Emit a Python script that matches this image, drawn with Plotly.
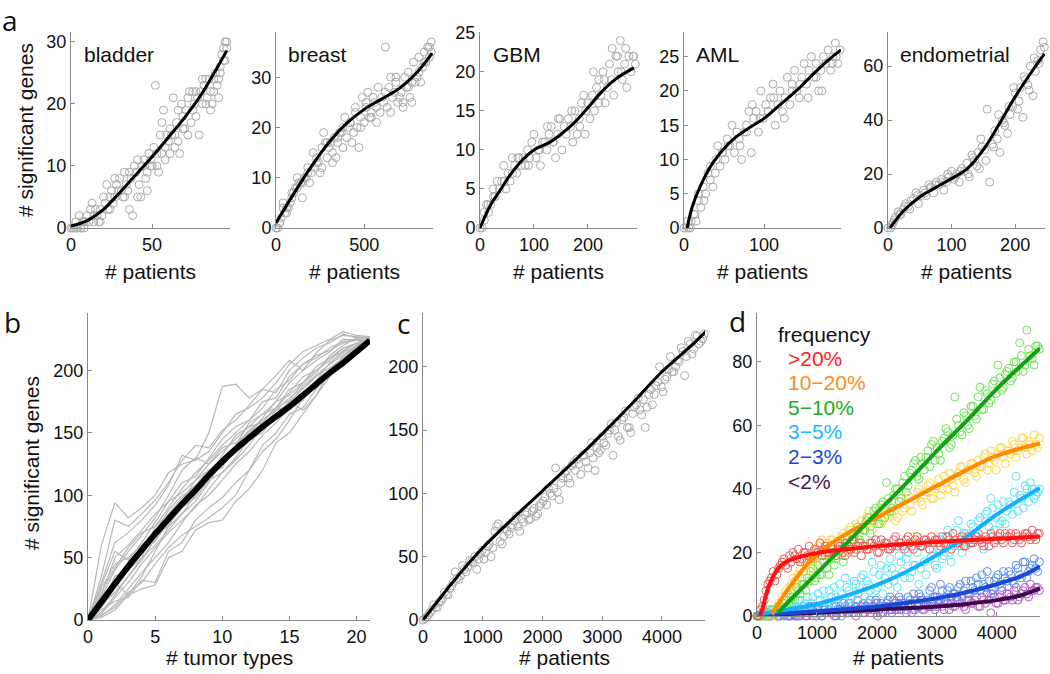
import plotly.graph_objects as go

# ---------------- panel a data ----------------
bladder_x = [0,1,2,3,4,5,6,7,8,9,
             10,11,12,13,14,15,16,17,18,19,
             20,21,22,23,24,25,26,27,28,29,
             30,31,32,33,34,35,36,37,38,39,
             40,41,42,43,44,45,46,47,48,49,
             50,51,52,53,54,55,56,57,58,59,
             60,61,62,63,64,65,66,67,68,69,
             70,71,72,73,74,75,76,77,78,79,
             80,81,82,83,84,85,86,87,88,89,
             90,91,92,93,94,95,96,
             3,6,8,14,18,24,27,33,36,41,44,47,49,53,56,58,61,64,66,69,72,75,77,81,83,86,88,91,92,94,95,96]
bladder_y = [0,0,0,0,0,2,0,1,0,1,
             2,1,3,4,2,3,2,1,1,2,
             5,4,7,3,5,6,4,5,7,6,
             8,6,5,9,7,6,3,8,2,10,
             9,11,7,5,10,11,8,9,12,10,
             10,13,23,12,9,15,17,19,13,15,
             14,16,15,21,13,17,14,12,20,18,
             16,19,21,22,17,19,20,18,21,15,
             22,24,23,20,21,24,19,20,22,25,
             23,21,26,28,29,30,30,
             1,0,1,1,3,3,8,5,9,5,10,6,11,10,12,11,12,15,19,16,15,22,22,20,24,22,24,24,25,27,27,29]
bladder_fit_x = [0,10,20,30,40,50,60,70,80,90,96]
bladder_fit_y = [0.3,1.2,3.0,5.7,8.6,11.5,14.6,17.8,21.4,25.8,28.6]

breast_x = [0,10,20,30,40,50,60,70,80,90,
            100,110,120,130,140,150,160,170,180,190,
            200,210,220,230,240,250,260,270,280,290,
            300,310,320,330,340,350,360,370,380,390,
            400,410,420,430,440,450,460,470,480,490,
            500,510,520,530,540,550,560,570,580,590,
            600,610,620,630,640,650,660,670,680,690,
            700,710,720,730,740,750,760,770,780,790,
            800,810,820,830,840,850,860,870,880,
            20,40,60,90,120,150,180,230,260,290,320,350,380,420,450,480,510,540,570,620,650,680,720,750,770,810,840,870,880]
breast_y = [0,0,1,2,5,3,4,4,5,7,
            7,8,10,9,9,6,10,10,12,9,
            11,15,12,14,13,11,16,19,17,14,
            16,17,13,18,14,17,19,19,16,22,
            18,20,21,17,19,23,20,16,22,26,
            21,24,27,22,23,26,25,21,28,23,
            26,25,36,24,28,30,26,27,29,25,
            26,27,25,30,28,31,26,25,33,29,
            30,34,29,32,35,33,36,34,37,
            1,4,3,6,8,9,11,13,12,17,15,18,20,21,24,20,25,22,24,27,23,30,24,28,29,31,33,36,35]
breast_fit_x = [0,100,200,300,400,500,600,700,800,885]
breast_fit_y = [1.0,6.8,12.2,17.0,20.8,23.6,25.7,27.8,31.0,34.8]

gbm_x = [0,4,8,12,16,20,24,28,32,36,
         40,44,48,52,56,60,64,68,72,76,
         80,84,88,92,96,100,104,108,112,116,
         120,124,128,132,136,140,144,148,152,156,
         160,164,168,172,176,180,184,188,192,196,
         200,204,208,212,216,220,224,228,232,236,
         240,244,248,252,256,260,264,268,272,276,
         280,284,288,
         8,15,25,45,60,70,90,110,125,135,145,170,185,195,210,220,230,245,255,262,270,285]
gbm_y = [0,0,1,3,2,3,5,4,6,5,
         6,8,5,7,6,9,8,7,9,8,
         9,8,10,9,11,12,9,10,8,11,
         11,10,12,13,11,9,12,14,10,13,
         12,14,13,11,15,12,14,16,17,15,
         16,14,17,15,18,19,17,20,16,18,
         21,19,17,22,20,24,19,21,18,22,
         20,22,21,
         2,3,4,6,7,9,8,10,13,11,14,15,13,12,20,16,19,23,22,20,23,22]
gbm_fit_x = [0,20,37,56,80,100,130,150,175,200,225,250,285]
gbm_fit_y = [0,3.0,4.8,6.8,8.8,10.0,11.0,12.0,13.5,15.4,17.4,19.0,20.5]

aml_x = [0,3,6,9,12,15,18,21,24,27,
         30,33,36,39,42,45,48,51,54,57,
         60,63,66,69,72,75,78,81,84,87,
         90,93,96,99,102,105,108,111,114,117,
         120,123,126,129,132,135,138,141,144,147,
         150,153,156,159,162,165,168,171,174,177,
         180,183,186,189,192,195,
         5,8,14,18,25,33,40,48,55,70,78,85,95,105,112,125,135,145,155,165,172,185,190]
aml_y = [0,0,0,1,2,1,4,3,6,5,
         8,9,6,8,12,9,11,10,13,12,
         15,11,14,13,10,14,15,17,11,16,
         17,14,20,16,18,17,19,21,15,18,
         20,17,19,22,18,21,23,20,19,22,
         24,21,23,25,22,24,20,23,25,24,
         26,23,25,27,24,26,
         1,0,2,5,4,7,10,11,12,12,14,18,16,17,19,16,20,21,19,22,20,24,25]
aml_fit_x = [4,10,20,36,60,80,100,120,140,160,180,196]
aml_fit_y = [0,3.0,6.0,9.5,12.8,14.5,16.0,18.0,20.0,22.3,24.5,26.0]

endo_x = [0,4,8,12,16,20,24,28,32,36,
          40,44,48,52,56,60,64,68,72,76,
          80,84,88,92,96,100,104,108,112,116,
          120,124,128,132,136,140,144,148,152,156,
          160,164,168,172,176,180,184,188,192,196,
          200,204,208,212,216,220,224,228,232,236,
          240,244,
          6,10,18,26,34,46,58,66,74,86,94,106,114,126,134,142,146,154,166,174,182,190,198,206,214,222,230,238,246]
endo_y = [0,0,2,4,6,5,7,9,8,10,
          11,13,9,12,14,12,16,15,13,17,
          16,18,14,17,19,21,18,20,17,22,
          21,24,19,27,25,23,22,30,29,44,
          17,31,36,33,28,40,38,35,42,45,
          50,44,52,41,55,53,60,49,58,62,
          66,69,
          1,3,5,8,7,12,13,15,16,17,20,19,21,20,26,28,33,25,30,42,39,45,52,47,56,51,63,61,67]
endo_fit_x = [3,25,50,75,100,125,150,175,200,225,246]
endo_fit_y = [0,6.5,11.5,15.0,18.3,22.0,29.0,38.5,48.6,57.5,64.5]

# ---------------- panel b data ----------------
tumor_types = [0,1,2,3,4,5,6,7,8,9,10,11,12,13,14,15,16,17,18,19,20,21]
b_runs = [
    [0,60,94,82,90,100,118,125,128,135,150,165,170,178,190,205,215,220,225,231,228,227],
    [0,35,80,75,85,96,110,128,140,138,152,160,172,185,182,200,210,218,222,229,226,226],
    [0,20,50,60,72,85,95,110,115,130,145,155,160,175,178,195,205,210,218,223,225,225],
    [0,10,25,40,55,63,80,95,112,120,125,140,152,160,170,182,195,200,210,215,222,226],
    [0,5,18,30,45,58,70,80,90,105,118,130,145,150,165,175,185,195,205,212,220,224],
    [0,15,30,20,35,55,75,85,95,110,128,135,150,162,175,180,190,200,208,218,222,225],
    [0,8,15,18,32,30,55,62,80,90,98,110,120,140,150,165,170,185,200,210,220,224],
    [0,25,45,50,60,70,88,100,105,118,122,140,158,165,170,185,190,198,212,220,226,227],
    [0,12,22,35,50,75,90,105,118,128,140,150,160,170,185,192,205,212,216,222,224,226],
    [0,3,12,25,38,50,62,78,92,100,112,125,135,148,158,170,176,192,206,214,220,225],
    [0,18,40,55,68,82,100,120,130,125,135,145,155,165,175,190,200,208,215,225,224,224],
    [0,6,20,35,48,65,76,90,98,112,118,128,140,155,168,178,186,196,202,210,218,223],
    [0,28,55,48,62,78,95,102,112,125,138,142,150,160,168,172,188,196,205,216,222,225],
    [0,10,35,40,50,60,72,85,100,115,132,148,155,158,170,176,190,203,210,218,221,224],
    [0,22,42,58,70,75,85,98,108,120,128,138,145,152,162,175,168,180,195,212,219,223],
    [0,4,10,22,30,45,58,68,75,82,90,100,120,135,145,160,178,190,200,208,216,224],
    [0,2,8,20,25,28,50,55,72,78,80,95,105,120,142,150,165,180,200,210,218,222],
    [0,30,62,70,80,92,108,132,128,150,187,189,178,185,196,208,200,214,224,228,227,226],
]
b_mean = [0,14.5,29,43,56,69,81,93,104,116,127,137,146,155,163,171,180,189,198,206,215,224]

# ---------------- panel c data ----------------
c_patients = [0,60,120,180,240,300,360,420,480,540,
              600,660,720,780,840,900,960,1020,1080,1140,
              1200,1260,1320,1380,1440,1500,1560,1620,1680,1740,
              1800,1860,1920,1980,2040,2100,2160,2220,2280,2340,
              2400,2460,2520,2580,2640,2700,2760,2820,2880,2940,
              3000,3060,3120,3180,3240,3300,3360,3420,3480,3540,
              3600,3660,3720,3780,3840,3900,3960,4020,4080,4140,
              4200,4260,4320,4380,4440,4500,4560,4620,4680,4740]
c_patients_b = [30,90,150,210,270,330,390,450,510,570,
                630,690,750,810,870,930,990,1050,1110,1170,
                1230,1290,1350,1410,1470,1530,1590,1650,1710,1770,
                1830,1890,1950,2010,2070,2130,2190,2250,2310,2370,
                2430,2490,2550,2610,2670,2730,2790,2850,2910,2970,
                3030,3090,3150,3210,3270,3330,3390,3450,3510,3570,
                3630,3690,3750,3810,3870,3930,3990,4050,4110,4170,
                4230,4290,4350,4410,4470,4530,4590,4650,4710]
c_genes = [0,2,6,12,10,15,22,20,27,38,
           32,43,38,47,45,40,52,48,58,50,
           70,76,60,72,68,75,82,70,77,85,
           80,88,84,92,97,104,98,120,95,112,
           118,108,124,127,115,130,120,140,118,132,
           145,138,150,130,156,142,160,152,148,168,
           175,162,152,178,170,185,200,180,192,208,
           196,205,215,193,220,210,225,218,222,228]
c_genes_b = [1,4,8,10,14,17,20,25,30,33,
             35,40,42,46,50,48,55,53,60,57,
             74,62,66,70,73,78,74,80,83,79,
             86,82,90,94,91,100,104,101,108,116,
             112,122,118,123,130,125,132,128,136,134,
             140,147,155,150,145,158,165,152,163,170,
             166,174,168,182,178,188,184,190,198,196,
             200,204,212,208,218,214,224,220,226]
c_fit_x = [0,250,500,1000,1500,2000,2500,3000,3500,4000,4500,4740]
c_fit_y = [0,15,30,57,80,102,124,147,171,196,217,228]

# ---------------- panel d data ----------------
d_patients = c_patients
d_patients_b = c_patients_b
d_labels = [">20%", "10\u221220%", "5\u221210%", "3\u22125%", "2\u22123%", "<2%"]
d_red = [0,2,5,10,12,11,15,17,16,19,
         20,18,17,20,19,18,21,20,19,22,
         20,21,19,22,20,23,21,20,22,19,
         22,21,23,24,20,22,23,21,24,22,
         23,21,25,22,24,23,22,24,21,23,
         24,22,23,25,21,24,23,25,22,24,
         23,25,24,22,24,26,23,25,24,26,
         25,23,26,24,25,26,24,25,26,25]
d_red_b = [0,3,8,11,14,13,16,18,15,17,
           19,21,18,20,22,19,20,23,21,20,
           22,20,23,21,19,22,24,21,23,22,
           21,23,22,20,24,23,21,22,25,23,
           22,24,23,21,25,22,24,23,25,24,
           23,25,22,24,26,23,24,22,25,23,
           24,26,23,25,22,25,24,26,23,25,
           26,24,25,23,26,25,27,24,26]
d_orange = [0,0,0,1,0,2,4,6,8,9,
            12,10,15,14,17,19,18,22,24,20,
            21,24,19,23,26,25,28,24,27,30,
            29,33,27,31,34,30,32,35,33,31,
            36,34,38,33,37,40,35,39,42,37,
            41,38,44,40,43,39,45,47,42,46,
            48,44,47,50,46,52,49,51,53,48,
            52,55,50,53,56,51,54,57,53,55]
d_orange_b = [0,0,0,0,1,1,3,5,7,10,
              11,13,12,16,15,18,21,17,20,23,
              24,20,22,25,23,27,24,29,26,28,
              31,28,30,32,29,34,31,33,30,36,
              33,37,35,25,39,36,38,41,37,40,
              43,40,42,45,41,44,47,43,46,48,
              45,49,47,51,48,50,46,53,50,52,
              51,54,52,56,53,55,52,54,56]
d_green = [0,0,1,0,2,1,3,2,5,4,
           6,9,7,10,12,14,11,16,13,19,
           13,20,18,22,17,24,21,25,28,23,
           27,31,30,34,29,36,42,33,38,40,
           37,44,41,46,49,43,48,50,47,55,
           53,49,56,58,54,69,60,57,63,59,
           66,62,72,65,70,68,74,79,71,76,
           78,75,80,86,77,90,82,79,85,83]
d_green_b = [0,0,1,0,1,2,2,4,3,6,
             5,8,10,8,11,15,12,13,17,15,
             18,16,21,19,23,20,26,22,24,27,
             30,26,33,29,35,31,37,34,40,36,
             42,39,45,48,44,50,46,52,54,49,
             51,55,59,53,57,62,58,64,60,66,
             63,69,65,71,67,73,70,75,72,77,
             74,80,77,82,79,84,81,85,84]
d_cyan = [0,0,1,0,2,1,3,1,2,4,
          3,2,5,1,6,4,2,7,3,5,
          8,4,6,10,5,9,3,11,7,12,
          6,10,17,8,13,7,15,18,11,9,
          17,12,20,14,16,10,22,13,18,21,
          15,24,19,27,17,22,30,20,26,23,
          28,25,31,21,33,37,27,35,30,29,
          36,32,44,38,34,40,42,37,39,41]
d_cyan_b = [0,1,0,2,1,0,3,2,1,4,
            2,5,3,4,1,6,3,5,8,4,
            6,9,5,7,12,8,6,10,9,13,
            11,8,14,9,16,12,10,15,13,19,
            14,18,12,16,20,15,17,23,19,16,
            21,18,25,20,23,27,22,26,24,29,
            26,30,24,32,28,34,31,29,36,33,
            35,39,33,37,41,36,40,38,40]
d_blue = [0,0,0,1,0,1,0,2,1,0,
          1,2,0,3,1,2,1,3,0,2,
          2,1,3,2,4,1,3,2,5,2,
          3,4,2,5,3,1,4,6,3,2,
          5,3,6,4,2,7,5,4,8,3,
          6,10,5,8,4,7,9,6,11,7,
          9,12,8,10,14,7,11,13,9,12,
          14,11,16,13,17,12,15,18,14,16]
d_blue_b = [0,1,0,0,2,1,0,1,0,2,
            1,0,2,1,3,0,2,1,2,4,
            1,3,2,0,2,4,1,3,2,4,
            2,5,3,4,1,3,5,2,4,6,
            4,2,5,7,3,6,4,5,9,6,
            5,8,6,9,7,5,10,8,7,11,
            8,10,13,9,11,8,12,10,14,11,
            13,10,15,12,17,14,16,15,17]
d_purple = [0,0,1,0,0,1,0,1,2,0,
            1,0,2,1,0,3,1,2,0,1,
            2,1,0,3,1,2,4,1,2,3,
            1,2,3,4,2,1,3,2,5,3,
            2,4,3,1,5,3,2,4,3,6,
            3,5,2,4,6,3,5,4,2,5,
            4,6,3,5,7,1,6,4,8,5,
            7,5,9,6,8,7,10,8,9,10]
d_purple_b = [0,1,0,0,1,0,2,0,1,0,
              0,2,1,0,1,2,0,1,3,1,
              1,0,2,1,3,1,2,0,2,1,
              3,1,2,0,4,2,3,1,2,4,
              3,1,4,2,3,5,2,3,4,2,
              4,3,5,2,3,6,4,3,5,4,
              5,3,6,4,5,7,4,6,5,7,
              6,8,5,7,9,6,8,9,8]
d_fit_red_x = [50,100,150,200,300,400,600,1000,1500,2000,3000,4000,4720]
d_fit_red_y = [0,3,6.5,9.5,13.5,16,18,19.8,21,22,23.3,24.3,25]
d_fit_orange_x = [250,500,1000,1500,2000,2500,3000,3500,4000,4720]
d_fit_orange_y = [0.5,8,19.5,26,31,36,41,46,50.5,54.3]
d_fit_green_x = [350,500,1000,1500,2000,2500,3000,3500,4000,4720]
d_fit_green_y = [1,4,13.5,23,32.5,42,52,61.5,71.5,84.3]
d_fit_cyan_x = [0,500,1000,1500,2000,2500,3000,3500,4000,4720]
d_fit_cyan_y = [0.5,2,3.8,6.5,9.8,14,19.2,25,32,40.3]
d_fit_blue_x = [0,1000,2000,2500,3000,3500,4000,4400,4720]
d_fit_blue_y = [0.3,1.5,3,4.2,5.6,7.5,10,12.5,15.6]
d_fit_purple_x = [0,1000,2000,3000,3500,4000,4400,4720]
d_fit_purple_y = [0.3,1,2,3,3.8,5,6.5,8.7]

# ---------------- styling / layout ----------------
W, H = 1050, 674
def fx(p):
    return p / W
def fy(p):
    return 1 - p / H

FONT = "Liberation Sans, Arial, sans-serif"
AXC = "#8a8a8a"
PTC = "#ababab"

fig = go.Figure()

panels = [
    dict(x0=71, x1=230, top=32, bot=228, xr=[0, 98], yr=[0, 31.6], xt=[0, 50], yt=[0, 10, 20, 30]),
    dict(x0=276, x1=433, top=32, bot=228, xr=[0, 890], yr=[0, 39], xt=[0, 500], yt=[0, 10, 20, 30]),
    dict(x0=480, x1=637, top=32, bot=228, xr=[0, 291], yr=[0, 25.1], xt=[0, 100, 200], yt=[0, 5, 10, 15, 20, 25]),
    dict(x0=684, x1=841, top=32, bot=228, xr=[0, 196], yr=[0, 28.6], xt=[0, 100], yt=[0, 5, 10, 15, 20, 25]),
    dict(x0=888, x1=1045, top=32, bot=228, xr=[0, 247], yr=[0, 72.6], xt=[0, 100, 200], yt=[0, 20, 40, 60]),
    dict(x0=88, x1=370, top=313, bot=620, xr=[0, 21], yr=[0, 246], xt=[0, 5, 10, 15, 20], yt=[0, 50, 100, 150, 200]),
    dict(x0=423, x1=705, top=313, bot=620, xr=[0, 4720], yr=[0, 242.4], xt=[0, 1000, 2000, 3000, 4000], yt=[0, 50, 100, 150, 200]),
    dict(x0=757, x1=1040, top=313, bot=616, xr=[0, 4720], yr=[0, 95.4], xt=[0, 1000, 2000, 3000, 4000], yt=[0, 20, 40, 60, 80]),
]

layout = dict(width=W, height=H, margin=dict(l=0, r=0, t=0, b=0, pad=0, autoexpand=False),
              paper_bgcolor="white", plot_bgcolor="white", showlegend=False,
              font=dict(family=FONT, size=18, color="#111"))
for i, p in enumerate(panels, start=1):
    sx = "" if i == 1 else str(i)
    common = dict(showline=True, linecolor=AXC, linewidth=1, ticks="inside", ticklen=4, tickcolor=AXC,
                  showgrid=False, zeroline=False, tickfont=dict(size=18, color="#111"),
                  fixedrange=True, automargin=False)
    layout["xaxis" + sx] = dict(domain=[fx(p["x0"]), fx(p["x1"])], range=p["xr"], anchor="y" + sx,
                                tickvals=p["xt"], **common)
    layout["yaxis" + sx] = dict(domain=[fy(p["bot"]), fy(p["top"])], range=p["yr"], anchor="x" + sx,
                                tickvals=p["yt"], **common)

def ax(i):
    s = "" if i == 1 else str(i)
    return dict(xaxis="x" + s, yaxis="y" + s)

def pts(i, x, y, color, size=8):
    fig.add_trace(go.Scatter(x=x, y=y, mode="markers", cliponaxis=False,
                             marker=dict(symbol="circle-open", size=size, color=color, line=dict(width=1)),
                             hoverinfo="skip", **ax(i)))

def fit(i, x, y, color="black", width=3):
    fig.add_trace(go.Scatter(x=x, y=y, mode="lines", line=dict(color=color, width=width, shape="spline"),
                             cliponaxis=False, hoverinfo="skip", **ax(i)))

top_sets = [
    (bladder_x, bladder_y, bladder_fit_x, bladder_fit_y),
    (breast_x, breast_y, breast_fit_x, breast_fit_y),
    (gbm_x, gbm_y, gbm_fit_x, gbm_fit_y),
    (aml_x, aml_y, aml_fit_x, aml_fit_y),
    (endo_x, endo_y, endo_fit_x, endo_fit_y),
]
for i, (x, y, fxv, fyv) in enumerate(top_sets, start=1):
    pts(i, x, y, PTC)
    fit(i, fxv, fyv)

# panel b
for run in b_runs:
    fig.add_trace(go.Scatter(x=tumor_types, y=run, mode="lines", line=dict(color="#b8b8b8", width=1.2),
                             hoverinfo="skip", cliponaxis=False, **ax(6)))
fig.add_trace(go.Scatter(x=tumor_types, y=b_mean, mode="lines", line=dict(color="black", width=6, shape="spline"),
                         hoverinfo="skip", cliponaxis=False, **ax(6)))

# panel c
pts(7, c_patients, c_genes, PTC)
pts(7, c_patients_b, c_genes_b, PTC)
fit(7, c_fit_x, c_fit_y, width=3)

# panel d
d_series = [
    (d_purple, d_purple_b, "#b75ccb", d_fit_purple_x, d_fit_purple_y, "#3d0b4a"),
    (d_blue, d_blue_b, "#5b8ef2", d_fit_blue_x, d_fit_blue_y, "#1a48d6"),
    (d_cyan, d_cyan_b, "#5ae6f6", d_fit_cyan_x, d_fit_cyan_y, "#12b0ff"),
    (d_orange, d_orange_b, "#ffd64a", d_fit_orange_x, d_fit_orange_y, "#ff8a00"),
    (d_green, d_green_b, "#68e650", d_fit_green_x, d_fit_green_y, "#14a014"),
    (d_red, d_red_b, "#ef5a5a", d_fit_red_x, d_fit_red_y, "#ff1010"),
]
for ya, yb, pc, _, _, _ in d_series:
    pts(8, d_patients, ya, pc)
    pts(8, d_patients_b, yb, pc)
for _, _, _, fxv, fyv, lc in d_series:
    fit(8, fxv, fyv, color=lc, width=4)

fig.update_layout(**layout)

ann = []
def text(x, y, s, size=21, color="#111", xanchor="left", angle=0, family=FONT, yanchor="middle"):
    ann.append(dict(x=fx(x), y=fy(y), xref="paper", yref="paper", text=s, showarrow=False,
                    xanchor=xanchor, yanchor=yanchor, textangle=angle, borderpad=0,
                    font=dict(size=size, color=color, family=family)))

# panel letters
text(1, 0, "a", size=28, family="Open Sans, sans-serif", yanchor="top")
text(3, 322, "b", size=28, family="Open Sans, sans-serif")
text(396, 323, "c", size=28, family="Open Sans, sans-serif")
text(728, 321, "d", size=28, family="Open Sans, sans-serif")

# tumor names
for name, x in [("bladder", 83), ("breast", 287), ("GBM", 492), ("AML", 695), ("endometrial", 899)]:
    text(x, 55, name, size=21)

# axis titles
for p in panels[:5]:
    text((p["x0"] + p["x1"]) / 2, 271, "# patients", xanchor="center")
text(25, 130, "# significant genes", angle=-90, xanchor="center")
text(31, 463, "# significant genes", angle=-90, xanchor="center")
text(229, 657, "# tumor types", xanchor="center")
text(564, 657, "# patients", xanchor="center")
text(898, 657, "# patients", xanchor="center")

# frequency legend
text(777, 334, "frequency", size=21)
leg_colors = ["#ff1a1a", "#ff8c1a", "#1faa1f", "#22b8ff", "#1a48d0", "#4a1458"]
for k, (lab, col) in enumerate(zip(d_labels, leg_colors)):
    text(787, 358 + k * 24.6, lab, size=21, color=col)

fig.update_layout(annotations=ann)
fig.write_html("out.html", config={"displayModeBar": False},
               post_script="document.body.style.margin='0';document.body.style.padding='0';"
                           "document.body.style.overflow='hidden';")
